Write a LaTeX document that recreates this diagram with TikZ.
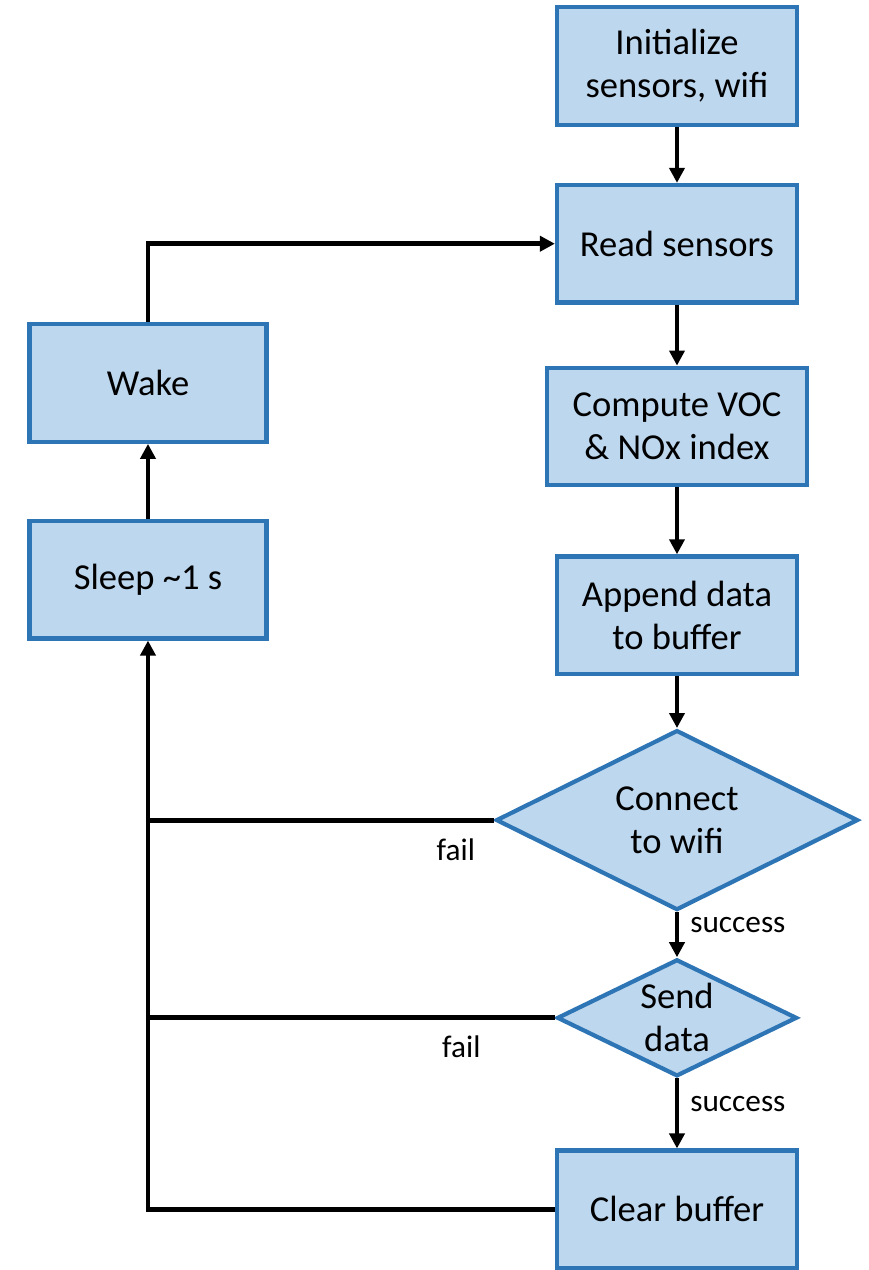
\documentclass[tikz,border=0pt]{standalone}
\usepackage{fontspec}
\setmainfont{Carlito}
\usepackage{xcolor}
\usepackage{tikz}
\usetikzlibrary{arrows.meta, positioning, shapes.geometric}

\definecolor{boxfill}{HTML}{BDD7EE}
\definecolor{boxdraw}{HTML}{2E75B6}

\begin{document}
\begin{tikzpicture}[
    box/.style={rectangle, draw=boxdraw, fill=boxfill, line width=2.4pt, minimum width=4.8cm, minimum height=2.35cm, align=center, font=\fontsize{20.8}{24.5}\selectfont},
    decision/.style={diamond, draw=boxdraw, fill=boxfill, line width=2.4pt, inner sep=0pt},
    txt/.style={align=center, font=\fontsize{20.8}{24.5}\selectfont},
    lbl/.style={font=\fontsize{17.8}{21}\selectfont},
    line/.style={draw=black, line width=2.8pt, -{Triangle[length=3mm, width=3mm]}},
    wire/.style={draw=black, line width=2.8pt}
]
    \useasboundingbox (-13.54,-24.08) rectangle (3.84,1.32);

    % Main column
    \node[box] (init) at (0,0) {Initialize\\sensors, wifi};
    \node[box, below=1.12cm of init] (read) {Read sensors};
    \node[box, below=1.22cm of read, minimum width=5.2cm] (compute) {Compute VOC\\\& NOx index};
    \node[box, below=1.34cm of compute] (append) {Append data\\to buffer};
    \node[decision, below=1.04cm of append, minimum width=7.24cm, minimum height=3.6cm] (connect) {};
    \node[txt] (connect_txt) at (connect) {Connect\\to wifi};
    \node[decision, below=0.9cm of connect, minimum width=4.8cm, minimum height=2.34cm] (send) {};
    \node[txt] (send_txt) at (send) {Send\\data};
    \node[box, below=1.4cm of send] (clear) {Clear buffer};

    % Left column
    \node[box, minimum width=4.74cm] (wake) at (-10.58,-6.34) {Wake};
    \node[box, minimum width=4.74cm, below=1.5cm of wake] (sleep) {Sleep \textasciitilde1 s};

    % Connections
    \draw[line] (init) -- (read);
    \draw[line] (read) -- (compute);
    \draw[line] (compute) -- (append);
    \draw[line] (append) -- (connect);
    \draw[line] (connect) -- (send) node[midway, right, lbl, xshift=0.1cm, yshift=0.2cm] {success};
    \draw[line] (send) -- (clear) node[midway, right, lbl, xshift=0.1cm, yshift=0.18cm] {success};

    \draw[wire] (connect.west) -- (wake.center |- connect.west) node[pos=0.11, below, lbl, yshift=-0.2cm] {fail};
    \draw[wire] (send.west) -- (wake.center |- send.west) node[pos=0.23, below, lbl, yshift=-0.2cm] {fail};
    \draw[line] (clear.west) -| (sleep.south);
    \draw[line] (sleep) -- (wake);
    \draw[line] (wake.north) |- (read.west);
\end{tikzpicture}
\end{document}
